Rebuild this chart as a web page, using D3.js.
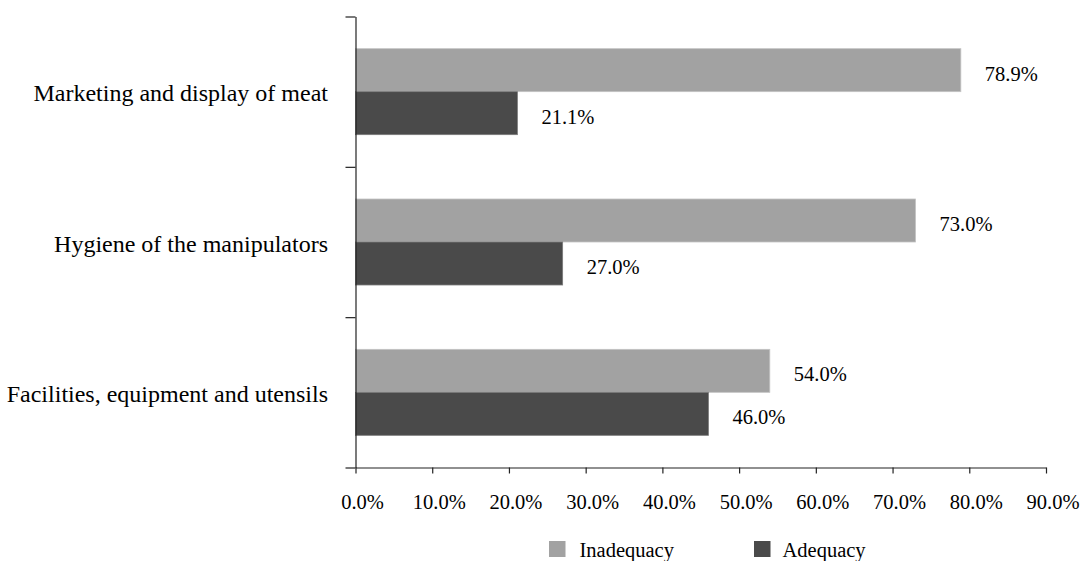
<!DOCTYPE html>
<html>
<head>
<meta charset="utf-8">
<script src="https://cdn.jsdelivr.net/npm/d3@7"></script>
<style>
  html, body { margin: 0; padding: 0; background: #fff; }
  svg { display: block; }
  text { font-family: "Liberation Serif", "Times New Roman", serif; fill: #000; }
</style>
</head>
<body>
<svg id="chart" width="1081" height="561"></svg>
<script>
const categories = ["Marketing and display of meat", "Hygiene of the manipulators", "Facilities, equipment and utensils"];
const seriesNames = ["Inadequacy", "Adequacy"];
const inadequacy = [78.9, 73.0, 54.0];
const adequacy = [21.1, 27.0, 46.0];
const xTicks = [0, 10, 20, 30, 40, 50, 60, 70, 80, 90];
const colors = { "Inadequacy": "#a2a2a2", "Adequacy": "#4a4a4a" };
const strokes = { "Inadequacy": "#c4c4c4", "Adequacy": "#7a7a7a" };

(function () {
const svg = d3.select("#chart");
const plotLeft = 355.5, plotRight = 1046, plotTop = 16.5, plotBottom = 467.5;

const x = d3.scaleLinear().domain([0, 90]).range([plotLeft, plotRight]);
const y0 = d3.scaleBand().domain(categories).range([plotTop, plotBottom]).padding(0);
const y1 = d3.scaleBand().domain(seriesNames).range([0, y0.bandwidth()]).paddingInner(0).paddingOuter(0.748);

const data = categories.map((c, i) => ({ cat: c, values: [
  { key: "Inadequacy", v: inadequacy[i] },
  { key: "Adequacy", v: adequacy[i] }
]}));

// bars
const groups = svg.append("g").selectAll("g").data(data).join("g")
  .attr("transform", d => `translate(0,${y0(d.cat)})`);
groups.selectAll("rect").data(d => d.values).join("rect")
  .attr("x", x(0))
  .attr("y", d => y1(d.key))
  .attr("width", d => x(d.v) - x(0))
  .attr("height", y1.bandwidth())
  .attr("fill", d => colors[d.key])
  .attr("stroke", d => strokes[d.key])
  .attr("stroke-width", 0.8);
groups.selectAll("text.lbl").data(d => d.values).join("text")
  .attr("class", "lbl")
  .attr("x", d => x(d.v) + 24)
  .attr("y", d => y1(d.key) + y1.bandwidth() / 2 + 10.5)
  .attr("font-size", "20.5px")
  .text(d => d.v.toFixed(1) + "%");

// y axis (ticks at category boundaries)
const yb = d3.scaleLinear().domain([0, categories.length]).range([plotBottom, plotTop]);
const yAxis = svg.append("g").attr("transform", `translate(${plotLeft},0)`)
  .call(d3.axisLeft(yb).tickValues(d3.range(0, categories.length + 1)).tickSize(10).tickSizeOuter(0).tickFormat(""));
yAxis.selectAll("path, line").attr("stroke", "#222").attr("stroke-width", 1.2);

// category labels
svg.append("g").selectAll("text").data(categories).join("text")
  .attr("x", 328)
  .attr("y", d => y0(d) + y0.bandwidth() / 2 + 9.5)
  .attr("text-anchor", "end")
  .attr("font-size", "24px")
  .text(d => d);

// x axis
const xAxis = svg.append("g").attr("transform", `translate(0,${plotBottom})`)
  .call(d3.axisBottom(x).tickValues(xTicks).tickSize(6).tickSizeOuter(0).tickFormat(d => d.toFixed(1) + "%"));
xAxis.selectAll("path, line").attr("stroke", "#222").attr("stroke-width", 1.2);
xAxis.selectAll("text")
  .attr("y", 41.5).attr("dy", null).attr("dx", 6.5)
  .attr("font-size", "20.5px")
  .attr("font-family", "Liberation Serif, Times New Roman, serif")
  .attr("fill", "#000");

// legend
const legendX = [549, 754];
const leg = svg.append("g").selectAll("g").data(seriesNames).join("g")
  .attr("transform", (d, i) => `translate(${legendX[i]},541)`);
leg.append("rect").attr("width", 16.5).attr("height", 16).attr("fill", d => colors[d]);
leg.append("text").attr("x", (d, i) => i === 0 ? 30.5 : 28.5).attr("y", 16)
  .attr("font-size", "20.5px").text(d => d);
})();
</script>
</body>
</html>
